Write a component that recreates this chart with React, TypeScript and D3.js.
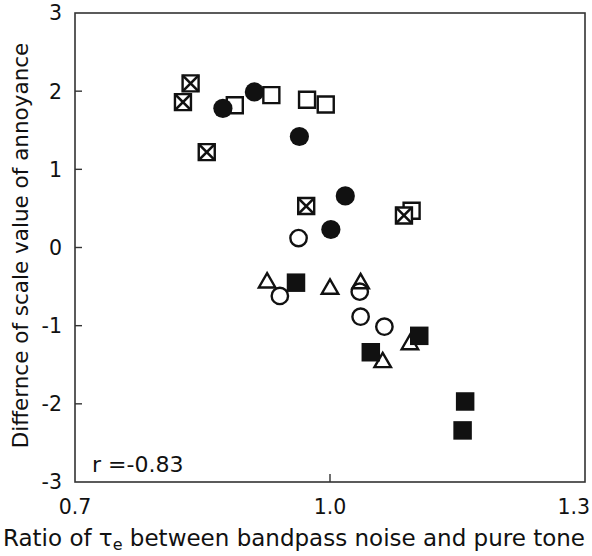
import React from "react";
import * as d3 from "d3";

// ---- data ----
const xTicks = [0.7, 1.0, 1.3];
const xTickLabels = ["0.7", "1.0", "1.3"];
const yTicks = [-3, -2, -1, 0, 1, 2, 3];

// [ratio of tau_e, difference of scale value]
const openSquares: [number, number][] = [
  [0.888, 1.82],
  [0.931, 1.95],
  [0.973, 1.89],
  [0.995, 1.83],
  [1.096, 0.47],
];
const crossedSquares: [number, number][] = [
  [0.836, 2.1],
  [0.827, 1.86],
  [0.855, 1.22],
  [0.972, 0.53],
  [1.087, 0.41],
];
const filledCircles: [number, number][] = [
  [0.874, 1.78],
  [0.911, 1.99],
  [0.964, 1.42],
  [1.018, 0.66],
  [1.001, 0.23],
];
const openCircles: [number, number][] = [
  [0.963, 0.12],
  [0.941, -0.62],
  [1.035, -0.565],
  [1.036, -0.885],
  [1.064, -1.013],
];
const openTriangles: [number, number][] = [
  [0.926, -0.45],
  [1.0, -0.53],
  [1.036, -0.46],
  [1.094, -1.24],
  [1.062, -1.47],
];
const filledSquares: [number, number][] = [
  [0.96, -0.45],
  [1.105, -1.13],
  [1.048, -1.34],
  [1.159, -1.97],
  [1.156, -2.34],
];

const rLabel = "r =-0.83";

// ---- layout ----
const W = 592;
const H = 556;
const L = 75;
const R = 585;
const T = 13;
const B = 482;
const FONT = "'DejaVu Sans', Verdana, sans-serif";
const INK = "#111";

export default function App() {
  const x = d3.scaleLinear().domain([0.7, 1.3]).range([L, R]);
  const y = d3.scaleLinear().domain([-3, 3]).range([B, T]);

  const sqOpen = d3.symbol(d3.symbolSquare, 16 * 16)()!;
  const sqFilled = d3.symbol(d3.symbolSquare, 18.5 * 18.5)()!;
  const circFilled = d3.symbol(d3.symbolCircle, Math.PI * 9.6 * 9.6)()!;
  const circOpen = d3.symbol(d3.symbolCircle, Math.PI * 8.2 * 8.2)()!;
  const tri = d3.symbol(d3.symbolTriangle, (16.5 * 16.5 * Math.sqrt(3)) / 4)()!;
  const sw = 2.4;
  const half = 8;

  return (
    <svg
      width={W}
      height={H}
      style={{ position: "absolute", left: 0, top: 0, background: "#fff" }}
      fontFamily={FONT}
    >
      <rect x={0} y={0} width={W} height={H} fill="#fff" />
      {/* frame */}
      <rect x={L} y={T} width={R - L} height={B - T} fill="none" stroke="#333" strokeWidth={1.6} />
      {/* y ticks */}
      {yTicks.map((t) => (
        <g key={"y" + t}>
          {t > -3 && t < 3 && (
            <line x1={L} x2={L + 7} y1={y(t)} y2={y(t)} stroke="#333" strokeWidth={1.4} />
          )}
          <text x={62} y={y(t)} dy="0.36em" textAnchor="end" fontSize={20.5} fill={INK}>
            {t}
          </text>
        </g>
      ))}
      {/* x ticks */}
      {xTicks.map((t, i) => (
        <g key={"x" + t}>
          {i > 0 && i < xTicks.length - 1 && (
            <line x1={x(t)} x2={x(t)} y1={B} y2={B - 8} stroke="#333" strokeWidth={1.4} />
          )}
          <text
            x={i === xTicks.length - 1 ? W - 2 : x(t)}
            y={514}
            textAnchor={i === xTicks.length - 1 ? "end" : "middle"}
            fontSize={20.5}
            fill={INK}
          >
            {xTickLabels[i]}
          </text>
        </g>
      ))}
      {/* axis titles */}
      <text x={294} y={546} textAnchor="middle" fontSize={23} fill={INK}>
        Ratio of τ<tspan fontSize={16} dy={4}>e</tspan>
        <tspan dy={-4}> between bandpass noise and pure tone</tspan>
      </text>
      <text
        transform={`translate(28,${(T + B) / 2 - 2}) rotate(-90)`}
        textAnchor="middle"
        fontSize={21.5}
        fill={INK}
      >
        Differnce of scale value of annoyance
      </text>
      <text x={92} y={472} fontSize={22} fill={INK}>
        {rLabel}
      </text>

      {/* markers */}
      {openSquares.map((d, i) => (
        <path key={"os" + i} d={sqOpen} transform={`translate(${x(d[0])},${y(d[1])})`} fill="#fff" stroke={INK} strokeWidth={sw} />
      ))}
      {crossedSquares.map((d, i) => (
        <g key={"cs" + i} transform={`translate(${x(d[0])},${y(d[1])})`}>
          <path d={sqOpen} fill="#fff" stroke={INK} strokeWidth={sw} />
          <line x1={-half} y1={-half} x2={half} y2={half} stroke={INK} strokeWidth={2.6} />
          <line x1={-half} y1={half} x2={half} y2={-half} stroke={INK} strokeWidth={2.6} />
        </g>
      ))}
      {filledCircles.map((d, i) => (
        <path key={"fc" + i} d={circFilled} transform={`translate(${x(d[0])},${y(d[1])})`} fill={INK} />
      ))}
      {openCircles.map((d, i) => (
        <path key={"oc" + i} d={circOpen} transform={`translate(${x(d[0])},${y(d[1])})`} fill="none" stroke={INK} strokeWidth={sw} />
      ))}
      {openTriangles.map((d, i) => (
        <path key={"ot" + i} d={tri} transform={`translate(${x(d[0])},${y(d[1])})`} fill="none" stroke={INK} strokeWidth={sw} strokeLinejoin="miter" />
      ))}
      {filledSquares.map((d, i) => (
        <path key={"fs" + i} d={sqFilled} transform={`translate(${x(d[0])},${y(d[1])})`} fill={INK} />
      ))}
    </svg>
  );
}
